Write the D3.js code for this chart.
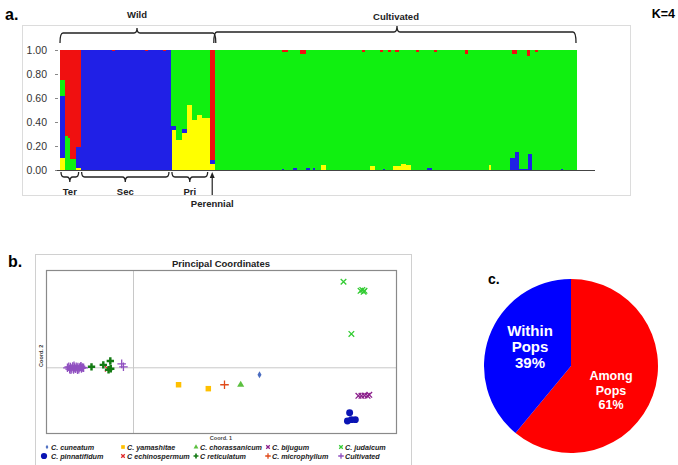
<!DOCTYPE html>
<html><head><meta charset="utf-8">
<script src="https://cdn.jsdelivr.net/npm/d3@7"></script>
<style>body{margin:0;background:#fff}svg{display:block}text{font-family:Arial,"Liberation Sans",sans-serif}</style>
</head><body>
<svg id="chart" width="678" height="465"></svg>
<script>
// ---------------- DATA ----------------
// Panel a: STRUCTURE K=4 membership (stack order bottom→top)
const clusterKeys = ["yellow", "blue", "green", "red"];
const clusterColors = ["#ffff00", "#2020e6", "#10f010", "#f01010"];
const groupNames = ["Ter", "Sec", "Pri", "Perennial", "Cultivated"];
const groupSizes = [8, 35, 15, 2, 140];
const yTicks = [0, 0.2, 0.4, 0.6, 0.8, 1.0];
// rows: [yellow, blue, green, red]
const terQ = [[.10,.52,.13,.25],[.10,.52,.13,.25],[0,0,.28,.72],[0,0,.27,.73],
              [0,0,.09,.91],[0,0,.09,.91],[.02,.17,0,.81],[.02,.17,0,.81]];
const secRed = [[12,.01],[25,.01],[32,.01]];
const priQ = [[.335,.035,.63,0],[.335,.035,.63,0],[.25,0,.75,0],[.25,0,.75,0],
              [.305,.035,.66,0],[.305,.035,.66,0],[.54,0,.46,0],[.54,0,.46,0],
              [.42,0,.58,0],[.42,0,.58,0],[.46,0,.54,0],[.46,0,.54,0],
              [.43,0,.57,0],[.43,0,.57,0],[.43,0,.57,0]];
const perQ = [[.05,.03,0,.92],[.05,.03,0,.92]];
const cultRed = [[26,.02],[27,.02],[33,.03],[34,.03],[57,.02],[64,.02],[67,.02],[70,.02],
                 [78,.02],[85,.02],[97,.03],[115,.03],[116,.03],[121,.05],[124,.02]];
const cultBlue = [[26,.01],[30,.02],[31,.02],[35,.02],[36,.02],[38,.015],[65,.01],[82,.02],[83,.02],
                  [114,.10],[115,.10],[116,.15],[117,.15],[118,.01],[119,.01],[120,.01],[121,.13],[122,.13],[134,.01]];
const cultYellow = [[41,.045],[42,.045],[60,.03],[61,.03],[69,.03],[70,.035],[71,.03],
                    [72,.05],[73,.05],[74,.04],[75,.04],[106,.04]];

// Panel b: PCoA
const species = ["C. cuneatum","C. yamashitae","C. chorassanicum","C. bijugum","C. judaicum",
                 "C. pinnatifidum","C echinospermum","C reticulatum","C. microphyllum","Cultivated"];
const speciesColors = ["#4a6cc0","#ffc000","#5cc040","#8b1e8b","#33cc33",
                       "#0a14b4","#e02a2a","#137a13","#e04a1a","#9050c0"];
const speciesShapes = ["diamond","square","triangle","times","times","circle","times","cross","plus","plus"];
const pcoaPoints = [
  ["C. cuneatum", .288, -.021],
  ["C. yamashitae", .103, -.052], ["C. yamashitae", .171, -.064],
  ["C. chorassanicum", .245, -.052],
  ["C. bijugum", .514, -.086], ["C. bijugum", .521, -.086], ["C. bijugum", .528, -.085], ["C. bijugum", .535, -.086], ["C. bijugum", .539, -.083],
  ["C. judaicum", .480, .264], ["C. judaicum", .519, .236], ["C. judaicum", .523, .239], ["C. judaicum", .528, .236], ["C. judaicum", .526, .233], ["C. judaicum", .498, .104],
  ["C. pinnatifidum", .494, -.138], ["C. pinnatifidum", .489, -.163], ["C. pinnatifidum", .498, -.159], ["C. pinnatifidum", .507, -.159],
  ["C echinospermum", -.059, -.003],
  ["C reticulatum", -.096, .003], ["C reticulatum", -.069, .009], ["C reticulatum", -.053, .021], ["C reticulatum", -.052, -.003], ["C reticulatum", -.057, -.006],
  ["C. microphyllum", .208, -.052],
  ["Cultivated", -.151, 0], ["Cultivated", -.148, .003], ["Cultivated", -.146, -.004], ["Cultivated", -.144, .002],
  ["Cultivated", -.141, -.002], ["Cultivated", -.139, .004], ["Cultivated", -.137, -.005], ["Cultivated", -.135, .001],
  ["Cultivated", -.133, -.003], ["Cultivated", -.131, .003], ["Cultivated", -.129, -.001], ["Cultivated", -.127, .002],
  ["Cultivated", -.125, -.004], ["Cultivated", -.123, .001], ["Cultivated", -.121, .003], ["Cultivated", -.119, -.002],
  ["Cultivated", -.117, .001], ["Cultivated", -.114, 0], ["Cultivated", -.143, -.006], ["Cultivated", -.136, .006],
  ["Cultivated", -.128, -.006], ["Cultivated", -.120, .005], ["Cultivated", -.027, .012], ["Cultivated", -.023, .003]
];

// Panel c: AMOVA
const amovaLabels = ["Among Pops", "Within Pops"];
const amovaValues = [61, 39];
const amovaColors = ["#ff0000", "#0000ff"];

// ---------------- BUILD ----------------
const svg = d3.select("#chart");
svg.append("rect").attr("width", 678).attr("height", 465).attr("fill", "#fff");

// ===== Panel a =====
const individuals = [];
terQ.forEach(r => individuals.push(r.slice()));
for (let i = 0; i < groupSizes[1]; i++) {
  const e = secRed.find(d => d[0] === i);
  individuals.push(e ? [0, 1 - e[1], 0, e[1]] : [0, 1, 0, 0]);
}
priQ.forEach(r => individuals.push(r.slice()));
perQ.forEach(r => individuals.push(r.slice()));
for (let i = 0; i < groupSizes[4]; i++) {
  const r = (cultRed.find(d => d[0] === i) || [0, 0])[1];
  const b = (cultBlue.find(d => d[0] === i) || [0, 0])[1];
  const y = (cultYellow.find(d => d[0] === i) || [0, 0])[1];
  individuals.push([y, b, 1 - r - b - y, r]);
}
const rows = individuals.map((r, i) => ({ id: i, yellow: r[0], blue: r[1], green: r[2], red: r[3] }));

const ga = svg.append("g");
ga.append("rect").attr("x", 22.5).attr("y", 25.5).attr("width", 608).attr("height", 170)
  .attr("fill", "none").attr("stroke", "#dcdcdc");

const xA = d3.scaleBand().domain(rows.map(d => d.id)).range([60, 576]).padding(0);
const yA = d3.scaleLinear().domain([0, 1]).range([170, 50]);

const stack = d3.stack().keys(clusterKeys)(rows);
ga.append("g").selectAll("g").data(stack).join("g")
  .attr("fill", (d, i) => clusterColors[i])
  .selectAll("rect").data(d => d.filter(s => s[1] - s[0] > 0.0001)).join("rect")
  .attr("x", d => xA(d.data.id))
  .attr("width", xA.bandwidth() + 0.6)
  .attr("y", d => yA(d[1]))
  .attr("height", d => yA(d[0]) - yA(d[1]))
  .attr("shape-rendering", "crispEdges");

// y axis
const yAxis = ga.append("g").attr("transform", "translate(58,0)")
  .call(d3.axisLeft(yA).tickValues(yTicks).tickFormat(d3.format(".2f")).tickSize(3));
yAxis.select(".domain").remove();
yAxis.selectAll("line").attr("stroke", "#888");
yAxis.selectAll("text").attr("font-size", 10.5).attr("fill", "#333").attr("x", -11);
// baseline
ga.append("line").attr("x1", 57).attr("x2", 595).attr("y1", 170.5).attr("y2", 170.5)
  .attr("stroke", "#444").attr("stroke-width", 1.2);

// group edges
const edges = [];
let acc = 0;
groupSizes.forEach(s => { edges.push([acc, acc + s - 1]); acc += s; });
const gx0 = i => xA(edges[i][0]);
const gx1 = i => xA(edges[i][1]) + xA.bandwidth();

function brace(x0, x1, yEnd, yLine, yTip, mid) {
  const m = mid !== undefined ? mid : (x0 + x1) / 2;
  const r = 3;
  return `M${x0},${yEnd} Q${x0},${yLine} ${x0 + r},${yLine} L${m - r},${yLine} Q${m},${yLine} ${m},${yTip}` +
         ` Q${m},${yLine} ${m + r},${yLine} L${x1 - r},${yLine} Q${x1},${yLine} ${x1},${yEnd}`;
}
const braceStyle = sel => sel.attr("fill", "none").attr("stroke", "#222").attr("stroke-width", 1.3);

// top braces
const wildX0 = gx0(0), wildX1 = gx1(3) + 1;
ga.append("path").attr("d", brace(wildX0, wildX1, 43, 33, 28, 137)).call(braceStyle);
ga.append("text").attr("x", 137).attr("y", 18).attr("text-anchor", "middle")
  .attr("font-size", 9.5).attr("font-weight", "bold").attr("fill", "#222").text("Wild");
const cultX0 = gx0(4) - 1, cultX1 = gx1(4);
ga.append("path").attr("d", brace(cultX0, cultX1, 43, 32, 26, 397)).call(braceStyle);
ga.append("text").attr("x", 396).attr("y", 20).attr("text-anchor", "middle")
  .attr("font-size", 9.5).attr("font-weight", "bold").attr("fill", "#222").text("Cultivated");

// bottom braces
[0, 1, 2].forEach(i => {
  const x0 = gx0(i) + 1, x1 = gx1(i) - 2;
  const m = (x0 + x1) / 2;
  ga.append("path").attr("d", brace(x0, x1, 172, 177, 182, m)).call(braceStyle);
  ga.append("text").attr("x", m).attr("y", 195).attr("text-anchor", "middle")
    .attr("font-size", 9.5).attr("font-weight", "bold").attr("fill", "#222").text(groupNames[i]);
});
// perennial arrow
const perX = (gx0(3) + gx1(3)) / 2;
ga.append("line").attr("x1", perX).attr("x2", perX).attr("y1", 176).attr("y2", 195)
  .attr("stroke", "#222").attr("stroke-width", 1.2);
ga.append("path").attr("d", `M${perX - 2.5},${178} L${perX},${172} L${perX + 2.5},${178} Z`).attr("fill", "#222");
ga.append("text").attr("x", perX).attr("y", 207).attr("text-anchor", "middle")
  .attr("font-size", 9.5).attr("font-weight", "bold").attr("fill", "#222").text(groupNames[3]);

svg.append("text").attr("x", 5).attr("y", 20).attr("font-size", 16).attr("font-weight", "bold").text("a.");
svg.append("text").attr("x", 675).attr("y", 18).attr("text-anchor", "end").attr("font-size", 12.5)
  .attr("font-weight", "bold").text("K=4");

// ===== Panel b =====
const gb = svg.append("g");
gb.append("rect").attr("x", 35.5).attr("y", 254.5).attr("width", 376).attr("height", 215)
  .attr("fill", "#fff").attr("stroke", "#d0d0d0");
svg.append("text").attr("x", 8).attr("y", 267).attr("font-size", 16).attr("font-weight", "bold").text("b.");
gb.append("text").attr("x", 221).attr("y", 267).attr("text-anchor", "middle").attr("font-size", 9.5)
  .attr("font-weight", "bold").attr("fill", "#222").text("Principal Coordinates");

const xB = d3.scaleLinear().domain([-0.2, 0.6]).range([46, 396]);
const yB = d3.scaleLinear().domain([-0.2, 0.3]).range([433, 270]);
gb.append("line").attr("x1", xB(0)).attr("x2", xB(0)).attr("y1", 270).attr("y2", 433).attr("stroke", "#c8c8c8");
gb.append("line").attr("x1", 46).attr("x2", 396).attr("y1", yB(0)).attr("y2", yB(0)).attr("stroke", "#c8c8c8");
gb.append("rect").attr("x", 46.5).attr("y", 270.5).attr("width", 350).attr("height", 163)
  .attr("fill", "none").attr("stroke", "#8a8a8a").attr("stroke-width", 1.2);
gb.append("text").attr("x", 221).attr("y", 440).attr("text-anchor", "middle").attr("font-size", 5.5)
  .attr("font-weight", "bold").attr("fill", "#444").text("Coord. 1");
gb.append("text").attr("transform", `translate(43,${yB(0) - 12}) rotate(-90)`).attr("text-anchor", "middle")
  .attr("font-size", 5.5).attr("font-weight", "bold").attr("fill", "#444").text("Coord. 2");

const shapeDefs = {
  diamond: { type: d3.symbolDiamond, size: 14, fill: true },
  square: { type: d3.symbolSquare, size: 30, fill: true },
  triangle: { type: d3.symbolTriangle, size: 22, fill: true },
  circle: { type: d3.symbolCircle, size: 38, fill: true },
  times: { type: d3.symbolTimes || d3.symbolX, size: 22, fill: false },
  plus: { type: d3.symbolPlus, size: 26, fill: false },
  cross: { type: d3.symbolCross, size: 30, fill: true }
};
function drawSymbol(sel, sp, scale) {
  const i = species.indexOf(sp);
  const def = shapeDefs[speciesShapes[i]];
  const sz = def.size * (scale || 1);
  sel.attr("d", d3.symbol().type(def.type).size(sz)())
    .attr("fill", def.fill ? speciesColors[i] : "none")
    .attr("stroke", def.fill ? "none" : speciesColors[i])
    .attr("stroke-width", def.fill ? 0 : 1.3);
}
gb.append("g").selectAll("path").data(pcoaPoints).join("path")
  .attr("transform", d => `translate(${xB(d[1])},${yB(d[2])})`)
  .each(function (d) { drawSymbol(d3.select(this), d[0]); });

// legend
const legCols = [47, 123, 196, 268, 341];
const legRows = [447, 456];
species.forEach((sp, i) => {
  const cx = legCols[i % 5], cy = legRows[Math.floor(i / 5)];
  const big = speciesShapes[i] === "circle";
  gb.append("path").attr("transform", `translate(${cx - (big ? 3 : 0)},${cy})`)
    .call(s => drawSymbol(s, sp, big ? 0.8 : 0.45));
  gb.append("text").attr("x", cx + 4).attr("y", cy + 2.6).attr("font-size", 7.2)
    .attr("font-weight", "bold").attr("font-style", "italic").attr("fill", "#222").text(sp);
});

// ===== Panel c =====
const gc = svg.append("g").attr("transform", "translate(571,366)");
svg.append("text").attr("x", 488).attr("y", 284).attr("font-size", 14).attr("font-weight", "bold").text("c.");
const pie = d3.pie().sort(null).value(d => d)(amovaValues);
const arc = d3.arc().innerRadius(0).outerRadius(87);
gc.selectAll("path").data(pie).join("path").attr("d", arc).attr("fill", (d, i) => amovaColors[i]);
// [x, first baseline, font size, line step]
const labelPos = [[40, 14, 12.5, 14.5], [-41, -30, 15, 16]];
pie.forEach((d, i) => {
  const words = amovaLabels[i].split(" ");
  const lines = [words[0], words[1], amovaValues[i] + "%"];
  const [lx, ly, fs, step] = labelPos[i];
  lines.forEach((t, j) => {
    gc.append("text").attr("x", lx).attr("y", ly + j * step).attr("text-anchor", "middle")
      .attr("font-size", fs).attr("font-weight", "bold").attr("fill", "#fff").text(t);
  });
});
</script>
</body></html>
